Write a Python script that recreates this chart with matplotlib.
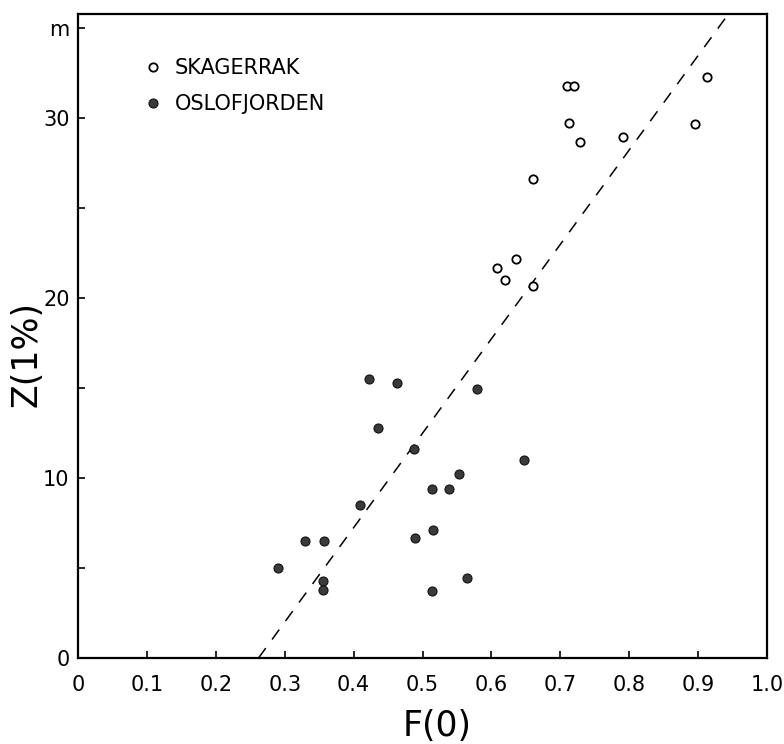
#!/usr/bin/env python3

import matplotlib
matplotlib.use("Agg")
import matplotlib.pyplot as plt
import numpy as np

# Skagerrak (open circles)
skag_f = [0.710, 0.720, 0.913, 0.712, 0.728, 0.791, 0.896, 0.660, 0.636, 0.608, 0.620, 0.660]
skag_z = [31.8, 31.8, 32.3, 29.75, 28.7, 28.95, 29.7, 26.6, 22.2, 21.7, 21.0, 20.7]

# Oslofjorden (filled circles)
oslo_f = [0.423, 0.4625, 0.436, 0.410, 0.330, 0.357, 0.291, 0.355, 0.355,
          0.579, 0.488, 0.647, 0.553, 0.514, 0.539, 0.515, 0.489, 0.565, 0.514]
oslo_z = [15.5, 15.3, 12.8, 8.5, 6.5, 6.5, 5.0, 4.3, 3.8,
          14.97, 11.6, 11.0, 10.24, 9.4, 9.4, 7.1, 6.66, 4.45, 3.75]

# dashed regression line end points
fit_f = [0.262, 0.944]
fit_z = [0.0, 35.8]

xticks = np.round(np.arange(0, 1.01, 0.1), 1)
xticklabels = ["0"] + ["%.1f" % v for v in xticks[1:]]
yticks = [0, 5, 10, 15, 20, 25, 30, 35]
yticklabels = ["0", "", "10", "", "20", "", "30", "m"]

fig = plt.figure(figsize=(7.84, 7.44), dpi=100)
ax = fig.add_axes([78 / 784, 1 - 658 / 744, 689 / 784, 644 / 744])

ax.plot(fit_f, fit_z, color="black", lw=1.1, dashes=(8, 7))
ax.plot(skag_f, skag_z, "o", ms=6, mfc="white", mec="black", mew=1.3,
        ls="none", label="SKAGERRAK")
ax.plot(oslo_f, oslo_z, "o", ms=6.5, mfc="#3a3a3a", mec="#111111", mew=0.8,
        ls="none", label="OSLOFJORDEN")

ax.set_xlim(0, 1.0)
ax.set_ylim(0, 35.8)
ax.set_xticks(xticks)
ax.set_xticklabels(xticklabels)
ax.set_yticks(yticks)
ax.set_yticklabels(yticklabels)
ax.tick_params(axis="both", direction="in", length=5, width=1.2,
               labelsize=15, colors="black")
ax.tick_params(axis="x", pad=12)
ax.tick_params(axis="y", pad=6)

for s in ax.spines.values():
    s.set_linewidth(1.6)

ax.set_xlabel("F(0)", fontsize=25, va="center")
ax.xaxis.set_label_coords(0.521, -0.106)
ax.set_ylabel("Z(1%)", fontsize=25, va="center")
ax.yaxis.set_label_coords(-0.075, 0.472)

ax.legend(loc="upper left", bbox_to_anchor=(0.097, 0.932), frameon=False,
          fontsize=15, handlelength=0.8, handletextpad=0.65,
          labelspacing=0.8, borderpad=0, borderaxespad=0)

plt.savefig("out.png", dpi=100)
